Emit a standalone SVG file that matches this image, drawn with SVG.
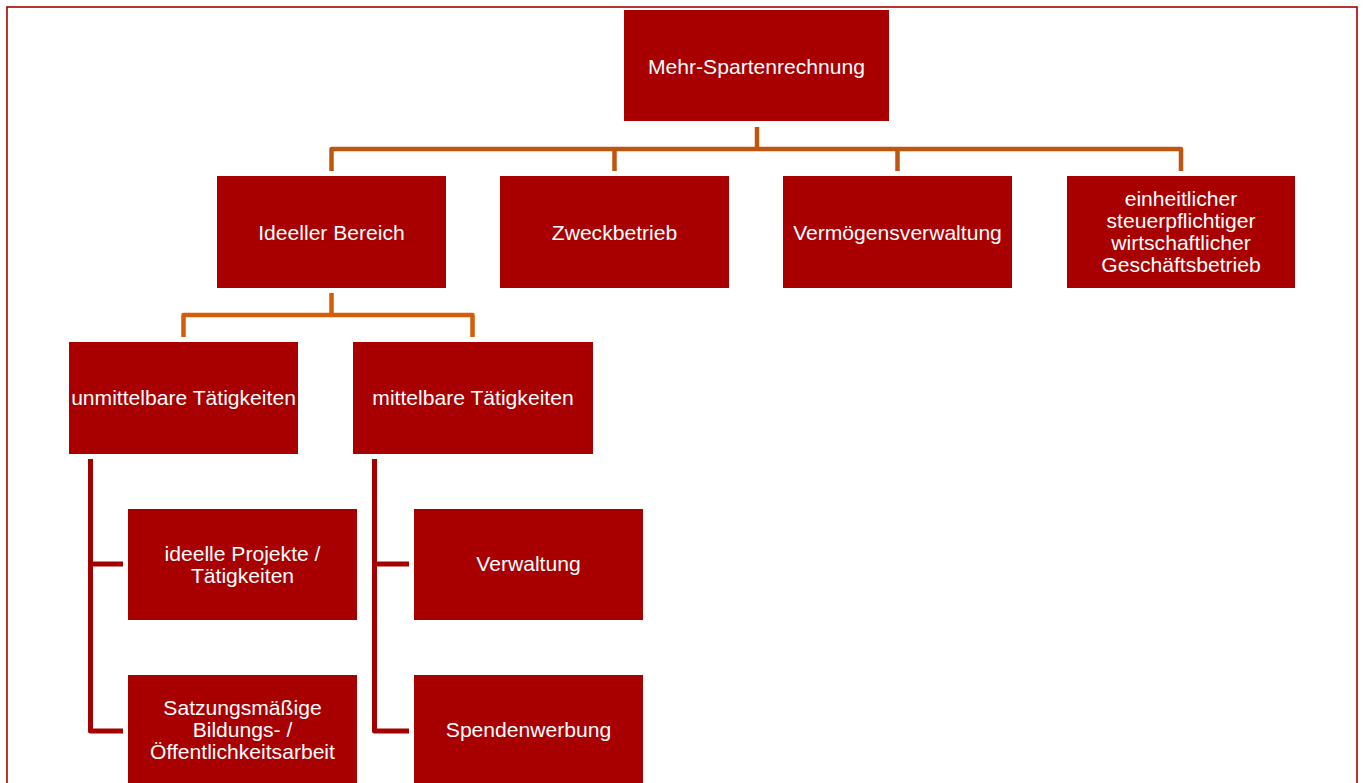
<svg xmlns="http://www.w3.org/2000/svg" width="1363" height="783" viewBox="0 0 1363 783">
<style>
.box{fill:#A80000}
.t{font-family:"Liberation Sans",Arial,sans-serif;font-size:21.1px;fill:#FFFFFF;text-anchor:middle}
.c1{fill:none;stroke:#BE5610;stroke-width:4.5;stroke-linejoin:round;stroke-linecap:butt}
.c2{fill:none;stroke:#D25E0A;stroke-width:4.5;stroke-linejoin:round}
.c3{fill:none;stroke:#A50000;stroke-width:5;stroke-linejoin:round}
</style>
<rect x="0" y="0" width="1363" height="783" fill="#FFFFFF"/>
<rect x="7" y="7" width="1350" height="800" fill="none" stroke="#A80000" stroke-width="1.6"/>
<g id="connectors">
<path class="c1" d="M331.5,171 V149 H1181 V171 M757,127 V149 M614.5,149 V171 M897.5,149 V171"/>
<path class="c2" d="M183.5,337 V315 H472.5 V337 M331.5,293 V315"/>
<path class="c3" d="M90.5,459 V731 H123 M90.5,564 H123"/>
<path class="c3" d="M374.5,459 V731 H409 M374.5,564 H409"/>
</g>
<g id="n-root"><rect class="box" x="624" y="10" width="265" height="111"/><text class="t" x="756.5" y="73.5">Mehr-Spartenrechnung</text></g>
<g id="n-ideell"><rect class="box" x="217" y="176" width="229" height="112"/><text class="t" x="331.5" y="239.5">Ideeller Bereich</text></g>
<g id="n-zweck"><rect class="box" x="500" y="176" width="229" height="112"/><text class="t" x="614.5" y="239.5">Zweckbetrieb</text></g>
<g id="n-verm"><rect class="box" x="783" y="176" width="229" height="112"/><text class="t" x="897.5" y="239.5">Vermögensverwaltung</text></g>
<g id="n-wgb"><rect class="box" x="1067" y="176" width="228" height="112"/><text class="t" x="1181" y="205.5">einheitlicher<tspan x="1181" dy="22">steuerpflichtiger</tspan><tspan x="1181" dy="22">wirtschaftlicher</tspan><tspan x="1181" dy="22">Geschäftsbetrieb</tspan></text></g>
<g id="n-unm"><rect class="box" x="69" y="342" width="229" height="112"/><text class="t" x="183.5" y="405">unmittelbare Tätigkeiten</text></g>
<g id="n-mit"><rect class="box" x="353" y="342" width="240" height="112"/><text class="t" x="473" y="405">mittelbare Tätigkeiten</text></g>
<g id="n-proj"><rect class="box" x="128" y="509" width="229" height="111"/><text class="t" x="242.5" y="560.5">ideelle Projekte /<tspan x="242.5" dy="22">Tätigkeiten</tspan></text></g>
<g id="n-satz"><rect class="box" x="128" y="675" width="229" height="111"/><text class="t" x="242.5" y="715">Satzungsmäßige<tspan x="242.5" dy="22">Bildungs- /</tspan><tspan x="242.5" dy="22">Öffentlichkeitsarbeit</tspan></text></g>
<g id="n-verw"><rect class="box" x="414" y="509" width="229" height="111"/><text class="t" x="528.5" y="571">Verwaltung</text></g>
<g id="n-spend"><rect class="box" x="414" y="675" width="229" height="111"/><text class="t" x="528.5" y="737">Spendenwerbung</text></g>
</svg>
